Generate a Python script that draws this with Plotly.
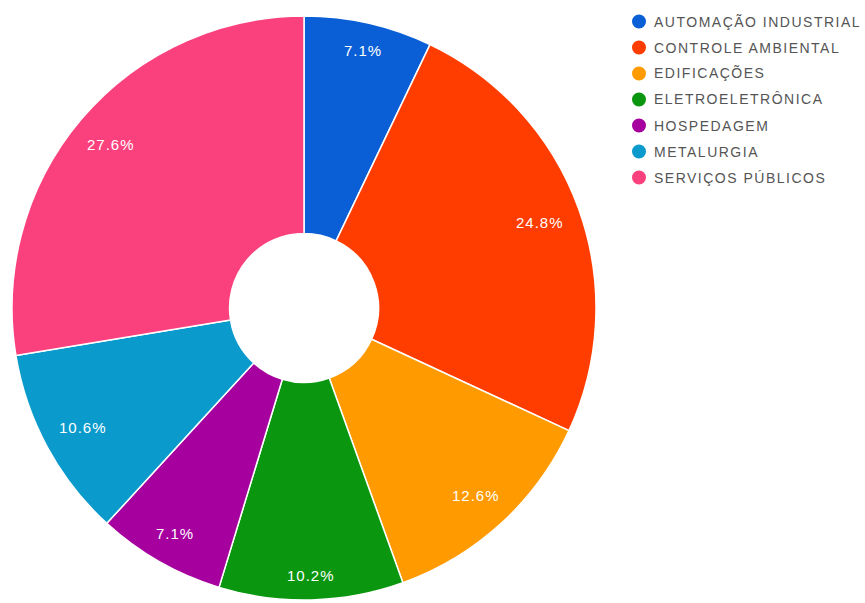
import numpy as np
import plotly.graph_objects as go

# Sector shares (percent) by area of activity
categories = [
    "AUTOMAÇÃO INDUSTRIAL",
    "CONTROLE AMBIENTAL",
    "EDIFICAÇÕES",
    "ELETROELETRÔNICA",
    "HOSPEDAGEM",
    "METALURGIA",
    "SERVIÇOS PÚBLICOS",
]
shares = [7.1, 24.8, 12.6, 10.2, 7.1, 10.6, 27.6]
colors = ["#0a5fd6", "#ff3d00", "#ff9a00", "#0b960f", "#a6009f", "#0a9bcc", "#fa417d"]

W, H = 865, 603
CX, CY, R = 304, 308, 292          # pie centre and radius in pixels
HOLE = 0.255
LABEL_R = 276                       # outer reach of the slice labels
LABEL_FONT = 15
LEGEND_X, LEGEND_Y0, LEGEND_STEP = 639, 21.5, 26

fig = go.Figure(
    go.Pie(
        labels=categories,
        values=shares,
        sort=False,
        direction="clockwise",
        rotation=0,
        hole=HOLE,
        marker=dict(colors=colors, line=dict(color="white", width=1.5)),
        textinfo="none",
        hoverinfo="label+percent",
        showlegend=False,
        domain=dict(
            x=[(CX - R) / W, (CX + R) / W],
            y=[1 - (CY + R) / H, 1 - (CY - R) / H],
        ),
    )
)

# Percentage labels placed near the outer rim of each slice
total = float(sum(shares))
cum = np.concatenate([[0.0], np.cumsum(shares)])
annotations = []
for i, v in enumerate(shares):
    theta = 2 * np.pi * (cum[i] + v / 2) / total
    s, c = np.sin(theta), np.cos(theta)
    txt = f"{v / total * 100:.1f}%"
    w, h = 9.5 * len(txt), 15
    d = LABEL_R - (abs(s) * w / 2 + abs(c) * h / 2)
    px, py = CX + d * s, CY - d * c
    annotations.append(dict(
        x=px / W, y=1 - py / H, xref="paper", yref="paper",
        text=f'<span style="letter-spacing:1px">{txt}</span>',
        showarrow=False, xanchor="center", yanchor="middle",
        font=dict(family="Liberation Sans, Arial, sans-serif", size=LABEL_FONT, color="white"),
    ))

# Legend: round swatches with spaced capitals
shapes = []
for i, (name, col) in enumerate(zip(categories, colors)):
    yc = LEGEND_Y0 + i * LEGEND_STEP
    shapes.append(dict(
        type="circle", xref="paper", yref="paper",
        x0=(LEGEND_X - 7) / W, x1=(LEGEND_X + 7) / W,
        y0=1 - (yc + 7) / H, y1=1 - (yc - 7) / H,
        fillcolor=col, line=dict(width=0),
    ))
    annotations.append(dict(
        x=(LEGEND_X + 13) / W, y=1 - yc / H, xref="paper", yref="paper",
        text=f'<span style="letter-spacing:1.5px">{name}</span>',
        showarrow=False, xanchor="left", yanchor="middle",
        font=dict(family="Liberation Sans, Arial, sans-serif", size=14, color="#555555"),
    ))

fig.update_layout(
    width=W, height=H, autosize=False,
    margin=dict(l=0, r=0, t=0, b=0),
    paper_bgcolor="white", plot_bgcolor="white",
    annotations=annotations, shapes=shapes,
)

fig.write_html("out.html")
